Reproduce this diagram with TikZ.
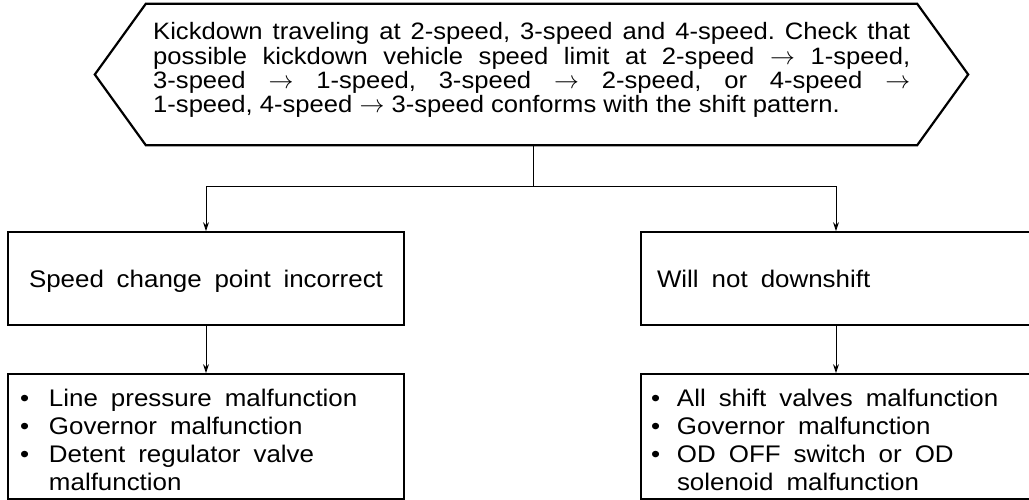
\documentclass[tikz,border=0pt]{standalone}
\usepackage{fontspec}
\setmainfont[FakeStretch=1.08]{Liberation Sans}
\usetikzlibrary{arrows.meta,calc}
\newcommand{\bulA}{\makebox[29pt][l]{\textbullet}}
\newcommand{\bulB}{\makebox[26pt][l]{\textbullet}}
\newcommand{\ar}{$\rightarrow$}
\newcommand{\topstrut}{\rule{0pt}{23.5pt}}
\newcommand{\widesp}{\spaceskip=13pt plus 1pt minus 1pt\relax}
\frenchspacing
\begin{document}
\begin{tikzpicture}[x=1pt,y=-1pt,
  box/.style={draw,line width=1.8pt,rectangle,inner ysep=0pt,align=left,
    font={\fontsize{24}{28}\selectfont}},
  hexframe/.style={line width=2.2pt,line join=miter},
  conn/.style={line width=0.9pt},
  arr/.style={conn,-{Stealth[length=9pt,width=6pt]}},
  ]
\useasboundingbox (0,0) rectangle (1029,500);

% top hexagon
\node[minimum width=771pt,minimum height=141pt,inner sep=0pt] (hex) at (531.5,74.5) {};
\draw[hexframe] (hex.north west) -- (hex.north east) -- ($(hex.east)+(51,0)$)
  -- (hex.south east) -- (hex.south west) -- ($(hex.west)+(-51,0)$) -- cycle;
\node[anchor=north west,inner sep=0pt,align=left,
  font={\fontsize{23.7}{24.3}\selectfont}] (hext) at (153,22.5) {%
\makebox[757pt][s]{Kickdown traveling at 2-speed, 3-speed and 4-speed. Check that}\\
\makebox[757pt][s]{possible kickdown vehicle speed limit at 2-speed \ar{} 1-speed,}\\
\makebox[757pt][s]{3-speed \ar{} 1-speed, 3-speed \ar{} 2-speed, or 4-speed \ar}\\
1-speed, 4-speed \ar{} 3-speed conforms with the shift pattern.};

% second row
\node[box,minimum height=93pt,text width=354pt,inner xsep=21pt,text depth=0pt] (b1) at (206,278.5)
  {\widesp Speed change point incorrect};
\node[box,minimum height=93pt,text width=358pt,inner xsep=16pt,text depth=0pt] (b2) at (836,278.5)
  {\widesp Will not downshift};

% third row
\node[box,minimum height=125pt,text width=372pt,inner xsep=12pt] (b3) at (206,436.5)
  {\widesp\topstrut\bulA Line pressure malfunction\\
   \bulA Governor malfunction\\
   \bulA Detent regulator valve\\
   \hspace*{29pt}malfunction};
\node[box,minimum height=125pt,text width=370pt,inner xsep=10pt] (b4) at (836,436.5)
  {\widesp\topstrut\bulB All shift valves malfunction\\
   \bulB Governor malfunction\\
   \bulB OD OFF switch or OD\\
   \hspace*{26pt}solenoid malfunction};

% connectors
\coordinate (j) at (533,186);
\draw[conn] (hex.south -| j) -- (j);
\draw[arr] (j) -| (b1);
\draw[arr] (j) -| (b2);
\draw[arr] (b1) -- (b3);
\draw[arr] (b2) -- (b4);
\end{tikzpicture}
\end{document}
